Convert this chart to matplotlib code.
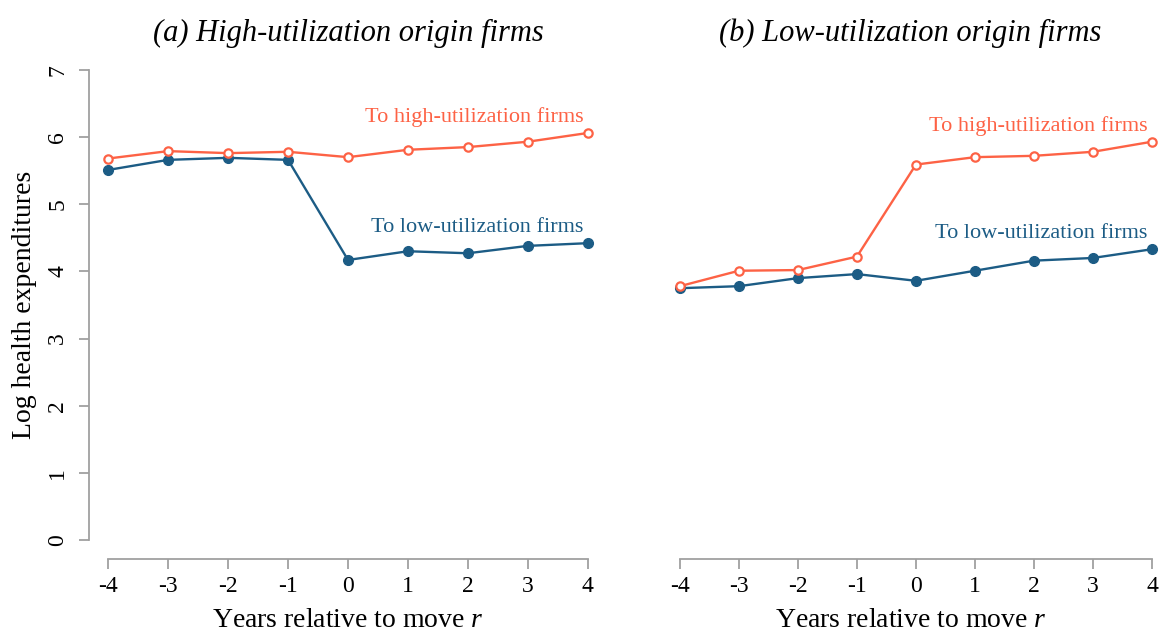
import matplotlib

matplotlib.use("Agg")
import matplotlib.pyplot as plt

plt.rcParams["font.family"] = ["Liberation Serif", "DejaVu Serif"]
plt.rcParams["mathtext.fontset"] = "custom"
plt.rcParams["mathtext.rm"] = "Liberation Serif"
plt.rcParams["mathtext.it"] = "Liberation Serif:italic"

years = [-4, -3, -2, -1, 0, 1, 2, 3, 4]

# (a) high-utilization origin firms
a_to_high = [5.68, 5.79, 5.76, 5.78, 5.70, 5.81, 5.85, 5.93, 6.06]
a_to_low = [5.51, 5.66, 5.69, 5.66, 4.17, 4.30, 4.27, 4.38, 4.42]

# (b) low-utilization origin firms
b_to_high = [3.78, 4.01, 4.02, 4.22, 5.59, 5.70, 5.72, 5.78, 5.93]
b_to_low = [3.75, 3.78, 3.90, 3.96, 3.86, 4.01, 4.16, 4.20, 4.33]

titles = ["(a) High-utilization origin firms", "(b) Low-utilization origin firms"]
yticks = [0, 1, 2, 3, 4, 5, 6, 7]

HIGH = "#fd6245"
LOW = "#1c5c85"
GREY = "#a0a0a0"

W, H = 1160, 632
fig = plt.figure(figsize=(W / 100, H / 100), dpi=100)

# axes boxes in pixels: left, top, right, bottom
boxes = [(89, 51, 607, 559), (661, 51, 1160, 559)]
xlims = [(-4.32, 4.32), (-4.32, 4.136)]
label_y = [(6.29, 4.66), (6.17, 4.56)]

panels = [(a_to_high, a_to_low), (b_to_high, b_to_low)]
for i, (hi, lo) in enumerate(panels):
    l, t, r, b = boxes[i]
    ax = fig.add_axes([l / W, 1 - b / H, (r - l) / W, (b - t) / H])
    ax.set_xlim(*xlims[i])
    ax.set_ylim(-0.28, 7.28)

    ax.plot(years, lo, color=LOW, lw=1.7, marker="o", ms=7, mfc=LOW, mec=LOW, zorder=3)
    ax.plot(years, hi, color=HIGH, lw=1.7, marker="o", ms=6, mfc="white", mec=HIGH,
            mew=1.6, zorder=3)

    ax.text(3.93, label_y[i][0], "To high-utilization firms", color=HIGH, fontsize=16,
            ha="right", va="center")
    ax.text(3.93, label_y[i][1], "To low-utilization firms", color=LOW, fontsize=16,
            ha="right", va="center")

    ax.set_title(titles[i], fontsize=22, style="italic", pad=7)

    for s in ["top", "right"]:
        ax.spines[s].set_visible(False)
    ax.spines["bottom"].set_bounds(-4, 4)
    ax.spines["bottom"].set_color(GREY)
    ax.spines["bottom"].set_linewidth(1.3)
    ax.set_xticks(years)
    ax.set_xticklabels([str(y) for y in years])
    ax.tick_params(axis="x", length=7, width=1.3, color=GREY, labelsize=17, pad=5)
    ax.set_xlabel("Years relative to move $\\mathit{r}$", fontsize=20, labelpad=8)

    if i == 0:
        ax.spines["left"].set_bounds(0, 7)
        ax.spines["left"].set_color(GREY)
        ax.spines["left"].set_linewidth(1.3)
        ax.set_yticks(yticks)
        ax.set_yticklabels([str(v) for v in yticks], rotation=90, va="center")
        ax.tick_params(axis="y", length=7, width=1.3, color=GREY, labelsize=17, pad=8)
        ax.set_ylabel("Log health expenditures", fontsize=20, labelpad=7)
    else:
        ax.spines["left"].set_visible(False)
        ax.set_yticks([])

fig.savefig("out.png", dpi=100)
